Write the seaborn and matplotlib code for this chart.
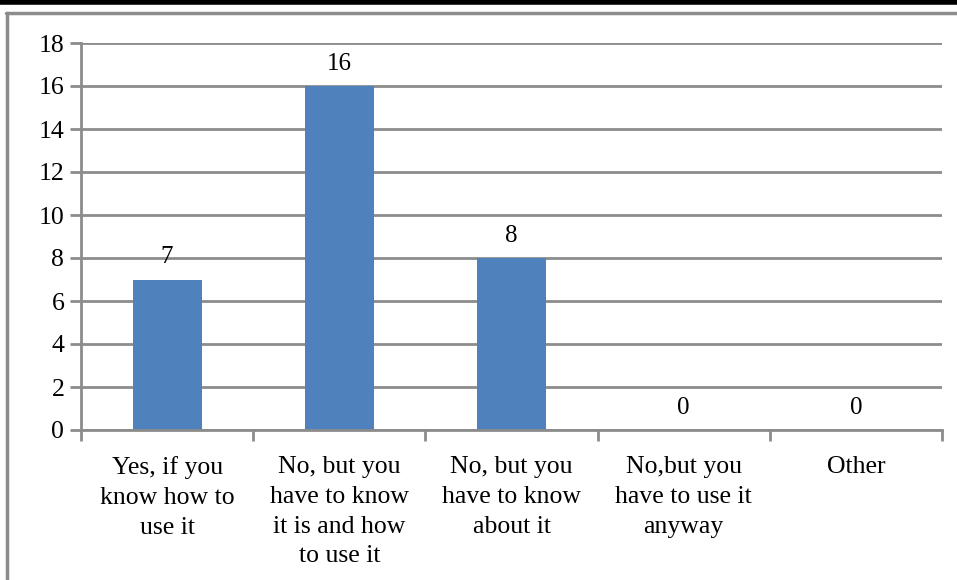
import matplotlib.pyplot as plt
import seaborn as sns
import pandas as pd

categories = ["Yes, if you\nknow how to\nuse it",
              "No, but you\nhave to know\nit is and how\nto use it",
              "No, but you\nhave to know\nabout it",
              "No,but you\nhave to use it\nanyway",
              "Other"]
counts = [7, 16, 8, 0, 0]
yticks = [0, 2, 4, 6, 8, 10, 12, 14, 16, 18]

df = pd.DataFrame({"cat": categories, "n": counts})

sns.set_theme(style="white")
plt.rcParams["font.family"] = ["Liberation Serif", "DejaVu Serif"]
plt.rcParams["text.color"] = "black"
plt.rcParams["xtick.labelcolor"] = "black"
plt.rcParams["ytick.labelcolor"] = "black"

fig = plt.figure(figsize=(9.57, 5.8), dpi=100)
ax = fig.add_axes([81 / 957, 1 - 430 / 580, (942 - 81) / 957, (430 - 43) / 580])

sns.barplot(data=df, x="cat", y="n", color="#4F81BD", saturation=1, width=0.4,
            linewidth=0, ax=ax)
ax.bar_label(ax.containers[0], fmt="%d", padding=8, fontsize=18, color="black")

ax.set_xlim(-0.5, len(categories) - 0.5)
ax.set_ylim(0, 18)
ax.set_yticks(yticks)
ax.set_xticks([i - 0.5 for i in range(len(categories) + 1)], minor=True)
ax.set_xticks(range(len(categories)))
ax.set_xticklabels(categories, fontsize=18.5, linespacing=1.45)
ax.tick_params(axis="y", labelsize=18.5, length=8, width=2, color="#8c8c8c", left=True, pad=4)
ax.tick_params(axis="x", which="major", length=0, pad=19)
ax.tick_params(axis="x", which="minor", length=8, width=2, color="#8c8c8c", bottom=True)
ax.yaxis.grid(True, color="#8c8c8c", linewidth=2)
ax.set_axisbelow(True)
ax.set_xlabel("")
ax.set_ylabel("")
for s in ["top", "right"]:
    ax.spines[s].set_visible(False)
for s in ["left", "bottom"]:
    ax.spines[s].set_color("#8c8c8c")
    ax.spines[s].set_linewidth(2)

# outer frame
fig.add_artist(plt.Line2D([0, 1], [1 - 2 / 580, 1 - 2 / 580], color="black", linewidth=4))
fig.add_artist(plt.Line2D([0.006, 1], [1 - 13 / 580, 1 - 13 / 580], color="#8c8c8c", linewidth=2.5))
fig.add_artist(plt.Line2D([0.007, 0.007], [0, 1 - 13 / 580], color="#8c8c8c", linewidth=2.5))

fig.savefig("out.png", dpi=100)
